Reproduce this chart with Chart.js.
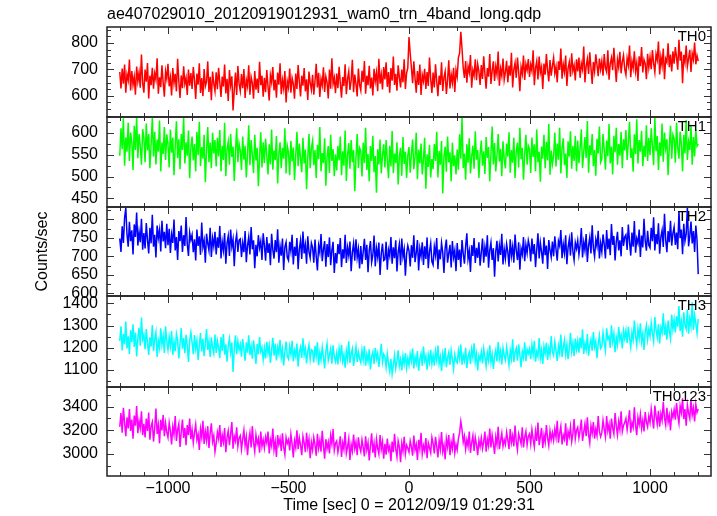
<!DOCTYPE html>
<html>
<head>
<meta charset="utf-8">
<script src="https://cdn.jsdelivr.net/npm/chart.js@4.4.1/dist/chart.umd.min.js"></script>
<style>
  html, body { margin: 0; padding: 0; background: #fff; }
  #wrap { position: relative; width: 717px; height: 516px; overflow: hidden; }
  #wrap canvas { position: absolute; left: 0; }
</style>
</head>
<body>
<div id="wrap"></div>
<script>
const FONT = "'Liberation Sans', Arial, Helvetica, sans-serif";
const fileTitle = "ae407029010_20120919012931_wam0_trn_4band_long.qdp";
const xTitle = "Time [sec] 0 = 2012/09/19 01:29:31";
const yTitle = "Counts/sec";

// light curve bins, 5 s each from -1200 to 1200 s
const tStart = -1200, tStep = 5;
const xRange = [-1253, 1253];
const xLabelTicks = [-1000, -500, 0, 500, 1000];

const bands = ["TH0", "TH1", "TH2", "TH3", "TH0123"];
const yRanges = [[520, 860], [430, 637], [593, 833], [1023, 1433], [2814, 3566]];
const yTickLabels = [
  [600, 700, 800],
  [450, 500, 550, 600],
  [600, 650, 700, 750, 800],
  [1100, 1200, 1300, 1400],
  [3000, 3200, 3400]
];
const yMinor = [25, 25, 25, 50, 100];

// one row = 100 s
const th0 = [
  690, 628, 703, 646, 718, 612, 681, 659, 737, 620, 694, 641, 672, 604, 711, 655, 688, 631, 756, 648,
  612, 699, 653, 724, 590, 676, 640, 706, 627, 685, 661, 742, 608, 670, 633, 715, 650, 597, 692, 664,
  721, 636, 669, 601, 705, 648, 683, 617, 740, 655, 592, 677, 629, 712, 645, 668, 603, 699, 638, 686,
  626, 709, 660, 588, 684, 642, 723, 611, 667, 599, 701, 636, 654, 730, 615, 672, 583, 692, 647, 618,
  689, 625, 706, 651, 596, 673, 635, 718, 609, 664, 581, 697, 640, 674, 545, 622, 688, 603, 713, 646,
  618, 682, 629, 701, 592, 660, 636, 715, 604, 671, 648, 589, 694, 623, 665, 611, 729, 640, 676, 597,
  668, 614, 697, 635, 582, 678, 651, 709, 620, 661, 593, 688, 642, 723, 606, 659, 627, 694, 575, 655,
  631, 703, 612, 667, 645, 589, 684, 626, 716, 652, 598, 676, 638, 705, 617, 662, 584, 692, 649, 623,
  679, 604, 655, 721, 632, 687, 596, 664, 640, 708, 615, 673, 651, 590, 699, 627, 742, 645, 668, 610,
  684, 629, 710, 648, 593, 671, 637, 719, 606, 663, 692, 622, 657, 736, 614, 680, 645, 598, 703, 641,
  620, 695, 652, 731, 608, 676, 640, 713, 628, 669, 601, 702, 655, 688, 617, 740, 646, 681, 624, 709,
  662, 727, 634, 690, 612, 705, 657, 748, 641, 683, 619, 715, 670, 632, 699, 651, 738, 626, 686, 705,
  822, 761, 706, 648, 730, 667, 612, 694, 641, 718, 603, 679, 655, 702, 626, 690, 637, 745, 664, 611,
  688, 632, 719, 654, 599, 676, 641, 727, 618, 670, 692, 607, 659, 734, 628, 681, 649, 706, 615, 697,
  672, 745, 761, 842, 778, 705, 668, 731, 650, 712, 688, 754, 631, 697, 676, 738, 659, 720, 692, 641,
  716, 664, 749, 683, 627, 705, 672, 758, 645, 694, 730, 656, 711, 681, 767, 638, 702, 675, 741, 660,
  689, 732, 651, 714, 676, 763, 632, 700, 725, 668, 745, 690, 617, 709, 683, 752, 660, 720, 697, 739,
  671, 718, 694, 772, 640, 705, 731, 662, 748, 687, 709, 626, 722, 680, 758, 697, 654, 735, 676, 713,
  744, 685, 710, 651, 730, 698, 779, 665, 719, 690, 752, 637, 704, 727, 672, 761, 694, 715, 658, 738,
  692, 745, 668, 722, 700, 786, 651, 712, 739, 683, 764, 706, 645, 728, 693, 757, 718, 674, 741, 700,
  731, 676, 758, 705, 690, 772, 661, 722, 744, 697, 781, 714, 652, 737, 708, 766, 685, 728, 753, 701,
  679, 742, 716, 790, 670, 731, 704, 768, 693, 725, 656, 749, 712, 784, 688, 737, 722, 663, 759, 707,
  746, 701, 773, 722, 689, 758, 736, 805, 681, 747, 714, 779, 663, 740, 727, 798, 708, 756, 692, 768,
  721, 784, 745, 699, 812, 733, 767, 648, 755, 726, 790, 711, 741, 774, 690, 760, 737, 801, 719, 752,
  731
];
const th1 = [
  548, 611, 563, 634, 525, 590, 557, 624, 536, 601, 579, 515, 617, 561, 636, 542, 598, 570, 527, 609,
  589, 533, 622, 560, 598, 519, 574, 636, 546, 603, 528, 585, 557, 629, 512, 578, 552, 614, 538, 597,
  574, 521, 608, 555, 590, 503, 569, 627, 542, 586, 517, 598, 561, 635, 530, 579, 548, 606, 496, 567,
  592, 537, 575, 512, 603, 549, 626, 524, 568, 541, 596, 487, 559, 614, 533, 578, 519, 601, 553, 584,
  523, 589, 546, 607, 512, 571, 538, 624, 501, 563, 580, 527, 598, 545, 569, 490, 556, 611, 533, 576,
  560, 515, 592, 539, 571, 498, 553, 618, 526, 584, 549, 508, 596, 537, 566, 478, 545, 602, 521, 579,
  531, 587, 549, 505, 574, 528, 608, 516, 560, 538, 593, 484, 552, 579, 519, 566, 541, 611, 507, 571,
  556, 503, 582, 535, 567, 492, 548, 603, 524, 576, 541, 510, 589, 530, 562, 471, 543, 598, 519, 565,
  582, 526, 561, 497, 573, 540, 614, 512, 554, 531, 588, 479, 545, 570, 508, 596, 536, 563, 501, 551,
  514, 571, 537, 592, 503, 558, 525, 606, 490, 549, 577, 518, 584, 533, 561, 466, 544, 598, 520, 566,
  559, 500, 578, 531, 612, 515, 552, 489, 570, 536, 594, 510, 547, 463, 563, 528, 585, 507, 549, 574,
  521, 584, 538, 496, 571, 523, 605, 508, 553, 531, 579, 482, 546, 566, 502, 591, 529, 557, 497, 548,
  568, 509, 553, 585, 517, 544, 601, 494, 562, 530, 576, 505, 539, 589, 472, 551, 522, 573, 498, 540,
  517, 575, 536, 603, 498, 559, 527, 582, 461, 546, 569, 511, 592, 533, 556, 489, 578, 524, 549, 505,
  562, 516, 597, 541, 636, 520, 553, 493, 574, 532, 588, 507, 546, 571, 518, 604, 539, 561, 497, 552,
  583, 525, 558, 506, 591, 543, 568, 489, 552, 615, 528, 577, 512, 549, 598, 534, 564, 501, 581, 540,
  519, 576, 546, 602, 509, 561, 532, 589, 497, 558, 578, 521, 612, 540, 566, 493, 551, 596, 527, 571,
  563, 508, 590, 545, 574, 512, 608, 533, 557, 488, 569, 541, 596, 519, 580, 537, 621, 504, 560, 529,
  548, 601, 523, 576, 539, 612, 507, 565, 588, 526, 553, 497, 581, 546, 604, 518, 571, 536, 593, 512,
  583, 531, 566, 609, 520, 557, 591, 543, 628, 509, 572, 549, 598, 524, 561, 502, 587, 553, 615, 533,
  541, 598, 562, 516, 583, 547, 621, 530, 569, 505, 594, 556, 612, 527, 575, 548, 603, 519, 586, 560,
  607, 538, 578, 626, 543, 565, 511, 597, 552, 632, 530, 584, 557, 605, 524, 571, 545, 618, 536, 589,
  549, 611, 571, 526, 636, 558, 593, 515, 579, 547, 622, 534, 601, 565, 586, 503, 569, 617, 541, 596,
  587, 532, 624, 566, 541, 603, 574, 512, 596, 553, 630, 538, 580, 561, 619, 527, 591, 546, 608, 570,
  575
];
const th2 = [
  748, 712, 781, 736, 804, 830, 759, 726, 793, 741, 770, 705, 786, 752, 818, 729, 766, 738, 801, 718,
  763, 721, 790, 744, 708, 777, 735, 812, 726, 758, 697, 783, 749, 771, 713, 796, 740, 766, 722, 788,
  730, 774, 709, 759, 736, 799, 716, 752, 690, 768, 741, 783, 712, 757, 728, 806, 733, 701, 764, 744,
  758, 711, 746, 689, 772, 728, 754, 704, 791, 725, 743, 683, 761, 735, 716, 777, 698, 749, 727, 766,
  705, 751, 723, 782, 694, 740, 716, 763, 680, 735, 755, 701, 772, 726, 746, 673, 738, 759, 712, 744,
  747, 698, 736, 711, 768, 684, 729, 752, 705, 779, 719, 743, 668, 731, 700, 757, 723, 741, 690, 762,
  730, 688, 752, 709, 735, 676, 761, 718, 694, 744, 711, 773, 683, 727, 702, 748, 663, 725, 738, 697,
  689, 739, 714, 758, 678, 726, 701, 749, 665, 720, 743, 693, 767, 708, 731, 680, 754, 712, 696, 736,
  724, 683, 745, 700, 662, 729, 710, 760, 687, 718, 741, 672, 733, 698, 751, 676, 716, 739, 655, 709,
  681, 733, 706, 749, 671, 719, 694, 758, 682, 724, 702, 740, 660, 711, 735, 688, 746, 697, 720, 667,
  728, 679, 712, 747, 690, 731, 657, 716, 741, 684, 703, 756, 673, 722, 698, 737, 650, 708, 734, 689,
  692, 739, 664, 717, 701, 752, 680, 724, 695, 743, 659, 712, 733, 676, 748, 699, 719, 648, 706, 729,
  715, 673, 730, 696, 757, 684, 709, 744, 662, 721, 700, 738, 677, 727, 693, 751, 668, 713, 735, 686,
  677, 726, 703, 749, 665, 718, 692, 736, 711, 655, 722, 745, 683, 708, 731, 670, 741, 697, 716, 660,
  736, 690, 718, 671, 744, 707, 680, 727, 762, 693, 714, 658, 730, 701, 749, 682, 723, 696, 738, 675,
  711, 748, 683, 725, 699, 757, 669, 716, 737, 690, 722, 645, 713, 742, 686, 729, 704, 761, 678, 720,
  694, 733, 712, 672, 746, 701, 726, 683, 759, 715, 690, 738, 664, 721, 705, 752, 687, 731, 709, 743,
  727, 686, 748, 706, 733, 671, 719, 762, 694, 737, 712, 680, 751, 703, 729, 666, 744, 717, 698, 740,
  700, 754, 719, 688, 741, 728, 771, 695, 733, 709, 757, 679, 724, 746, 702, 765, 714, 690, 737, 721,
  743, 705, 731, 776, 697, 738, 716, 760, 685, 729, 751, 708, 784, 722, 699, 745, 727, 769, 694, 735,
  712, 759, 733, 694, 771, 719, 748, 703, 787, 731, 755, 689, 740, 766, 716, 743, 700, 779, 728, 752,
  758, 717, 786, 739, 702, 764, 726, 795, 710, 748, 735, 772, 698, 756, 724, 801, 741, 715, 769, 730,
  723, 777, 741, 805, 716, 760, 733, 789, 707, 752, 770, 725, 815, 744, 711, 768, 738, 796, 729, 762,
  779, 731, 764, 719, 822, 749, 772, 706, 788, 741, 760, 831, 727, 755, 794, 735, 768, 712, 783, 744,
  652
];
const th3 = [
  1230, 1296, 1188, 1262, 1215, 1318, 1197, 1251, 1172, 1279, 1226, 1305, 1203, 1268, 1161, 1244, 1290, 1209, 1336, 1237,
  1258, 1193, 1284, 1221, 1167, 1247, 1205, 1302, 1184, 1239, 1270, 1158, 1232, 1199, 1287, 1214, 1253, 1176, 1296, 1228,
  1190, 1249, 1207, 1275, 1168, 1226, 1184, 1263, 1235, 1152, 1219, 1288, 1196, 1243, 1175, 1258, 1211, 1136, 1232, 1270,
  1224, 1171, 1257, 1196, 1232, 1145, 1210, 1266, 1183, 1240, 1162, 1218, 1284, 1190, 1229, 1158, 1247, 1201, 1174, 1259,
  1176, 1231, 1200, 1153, 1248, 1186, 1262, 1169, 1215, 1137, 1207, 1241, 1180, 1223, 1091, 1194, 1256, 1171, 1228, 1189,
  1215, 1160, 1239, 1193, 1141, 1224, 1178, 1256, 1167, 1206, 1151, 1233, 1189, 1127, 1217, 1170, 1248, 1183, 1201, 1146,
  1198, 1152, 1227, 1175, 1210, 1131, 1189, 1245, 1164, 1219, 1143, 1201, 1172, 1236, 1156, 1194, 1120, 1182, 1228, 1161,
  1149, 1206, 1170, 1231, 1138, 1188, 1162, 1219, 1115, 1180, 1203, 1154, 1242, 1168, 1196, 1129, 1185, 1213, 1147, 1191,
  1187, 1134, 1209, 1162, 1225, 1121, 1178, 1146, 1202, 1157, 1107, 1183, 1218, 1143, 1169, 1196, 1128, 1211, 1160, 1138,
  1176, 1125, 1197, 1154, 1213, 1140, 1168, 1110, 1186, 1149, 1229, 1131, 1172, 1195, 1118, 1163, 1204, 1136, 1181, 1151,
  1132, 1189, 1146, 1208, 1119, 1170, 1138, 1193, 1102, 1160, 1182, 1127, 1199, 1149, 1175, 1113, 1164, 1218, 1135, 1171,
  1158, 1112, 1173, 1129, 1094, 1150, 1081, 1122, 1165, 1106, 1139, 1188, 1117, 1147, 1098, 1163, 1126, 1176, 1110, 1152,
  1121, 1172, 1139, 1196, 1107, 1158, 1130, 1185, 1096, 1149, 1174, 1118, 1205, 1141, 1163, 1101, 1168, 1135, 1191, 1127,
  1166, 1119, 1183, 1144, 1210, 1128, 1159, 1095, 1172, 1137, 1198, 1112, 1154, 1179, 1123, 1188, 1148, 1104, 1169, 1140,
  1132, 1187, 1150, 1214, 1124, 1166, 1141, 1200, 1109, 1161, 1179, 1127, 1193, 1156, 1220, 1136, 1172, 1098, 1164, 1145,
  1181, 1129, 1196, 1158, 1117, 1177, 1143, 1211, 1134, 1170, 1104, 1162, 1189, 1138, 1226, 1151, 1184, 1125, 1199, 1166,
  1144, 1202, 1163, 1121, 1187, 1151, 1238, 1136, 1178, 1198, 1142, 1215, 1167, 1112, 1183, 1156, 1224, 1139, 1192, 1173,
  1195, 1148, 1213, 1169, 1231, 1137, 1182, 1160, 1244, 1153, 1190, 1127, 1206, 1174, 1222, 1145, 1199, 1167, 1252, 1181,
  1165, 1226, 1187, 1140, 1209, 1176, 1259, 1158, 1201, 1235, 1170, 1214, 1148, 1196, 1267, 1183, 1221, 1162, 1241, 1192,
  1231, 1178, 1246, 1197, 1283, 1172, 1220, 1191, 1262, 1164, 1213, 1238, 1186, 1271, 1203, 1229, 1153, 1217, 1255, 1196,
  1205, 1268, 1222, 1187, 1287, 1239, 1251, 1199, 1301, 1228, 1264, 1180, 1246, 1213, 1293, 1235, 1257, 1197, 1276, 1241,
  1278, 1221, 1294, 1245, 1202, 1269, 1236, 1322, 1254, 1212, 1285, 1243, 1310, 1227, 1263, 1190, 1272, 1301, 1238, 1284,
  1251, 1312, 1264, 1229, 1338, 1280, 1247, 1306, 1219, 1291, 1268, 1355, 1257, 1296, 1236, 1322, 1275, 1240, 1349, 1283,
  1327, 1269, 1341, 1295, 1388, 1276, 1318, 1250, 1360, 1302, 1284, 1372, 1263, 1331, 1296, 1405, 1280, 1347, 1309, 1265,
  1330
];
const th0123 = [
  3230, 3345, 3180, 3390, 3265, 3150, 3310, 3215, 3380, 3195, 3290, 3130, 3325, 3240, 3405, 3175, 3280, 3220, 3360, 3160,
  3255, 3140, 3300, 3195, 3350, 3120, 3235, 3270, 3105, 3220, 3385, 3170, 3245, 3090, 3290, 3200, 3330, 3150, 3260, 3185,
  3140, 3265, 3195, 3080, 3230, 3165, 3320, 3110, 3205, 3255, 3060, 3185, 3290, 3135, 3220, 3075, 3245, 3160, 3300, 3125,
  3205, 3095, 3180, 3250, 3120, 3165, 3035, 3210, 3140, 3280, 3085, 3190, 3115, 3235, 3050, 3175, 3260, 3105, 3155, 3020,
  3090, 3185, 3130, 3245, 3060, 3160, 3100, 3220, 3015, 3140, 3195, 3075, 3170, 3270, 3045, 3150, 3110, 3225, 3065, 3135,
  3155, 3040, 3125, 3200, 3070, 3145, 2990, 3110, 3180, 3055, 3235, 3095, 3020, 3160, 3085, 3130, 3010, 3190, 3065, 3120,
  3050, 3145, 3095, 3190, 3005, 3120, 3070, 3215, 3035, 3105, 2975, 3160, 3080, 3130, 3025, 3175, 3060, 2995, 3140, 3090,
  3120, 3030, 3165, 3085, 2970, 3110, 3055, 3200, 3040, 3135, 3075, 2990, 3150, 3095, 3015, 3180, 3060, 3125, 2965, 3100,
  3035, 3140, 3080, 2985, 3170, 3050, 3115, 3020, 3195, 3070, 2960, 3125, 3045, 3100, 3005, 3155, 3085, 3210, 3030, 3090,
  3110, 3015, 3075, 3150, 2975, 3095, 3040, 3185, 3005, 3060, 3130, 2950, 3080, 3025, 3165, 3045, 3100, 2990, 3140, 3060,
  3020, 3120, 3055, 2980, 3150, 3035, 3095, 2945, 3070, 3175, 3010, 3090, 2970, 3125, 3050, 3000, 3160, 3040, 3105, 2960,
  3085, 2995, 3130, 3030, 3065, 2940, 3105, 3015, 3170, 3045, 2975, 3110, 3060, 2930, 3090, 3025, 3145, 3000, 3075, 3050,
  3015, 3110, 3060, 2985, 3155, 3035, 3080, 2950, 3120, 3045, 3180, 3000, 3070, 3025, 3135, 2965, 3095, 3055, 3010, 3140,
  3090, 3005, 3145, 3065, 2970, 3115, 3040, 3185, 3020, 3075, 2955, 3130, 3060, 3160, 2990, 3100, 3045, 3175, 3010, 3080,
  3035, 3130, 3180, 3275, 3205, 3100, 3150, 3040, 3120, 3065, 3190, 3010, 3095, 3155, 3025, 3140, 3080, 2990, 3115, 3060,
  3135, 3045, 3105, 3190, 3020, 3125, 3070, 3215, 3055, 3160, 3090, 3000, 3145, 3080, 3230, 3040, 3110, 3175, 3065, 3120,
  3080, 3185, 3120, 3040, 3210, 3095, 3155, 3065, 3240, 3105, 3035, 3170, 3130, 3085, 3225, 3055, 3140, 3190, 3075, 3150,
  3170, 3085, 3205, 3125, 3060, 3190, 3110, 3265, 3075, 3145, 3220, 3050, 3160, 3100, 3245, 3135, 3070, 3195, 3120, 3180,
  3115, 3210, 3140, 3280, 3095, 3175, 3235, 3080, 3160, 3125, 3260, 3070, 3190, 3145, 3230, 3105, 3170, 3295, 3130, 3200,
  3225, 3135, 3200, 3290, 3110, 3185, 3255, 3150, 3310, 3165, 3095, 3240, 3175, 3270, 3130, 3210, 3155, 3320, 3190, 3145,
  3180, 3285, 3210, 3145, 3320, 3195, 3250, 3130, 3300, 3220, 3170, 3345, 3235, 3160, 3275, 3205, 3360, 3190, 3240, 3265,
  3300, 3205, 3280, 3370, 3180, 3265, 3225, 3395, 3240, 3160, 3310, 3250, 3335, 3215, 3285, 3190, 3355, 3270, 3230, 3320,
  3265, 3380, 3295, 3215, 3410, 3320, 3250, 3365, 3230, 3340, 3285, 3440, 3305, 3245, 3390, 3270, 3325, 3200, 3355, 3310,
  3375, 3290, 3430, 3325, 3260, 3405, 3350, 3470, 3295, 3380, 3240, 3415, 3345, 3300, 3455, 3330, 3390, 3275, 3420, 3350,
  3380
];
const series = [th0, th1, th2, th3, th0123];

// layout
const colors = ["#ff0000", "#00ff00", "#0000ff", "#00ffff", "#ff00ff"];
const panelTop = [27, 117, 207, 296, 387];
const panelBottom = [117, 207, 296, 387, 476];
const margin = 24; // room for tick labels spilling over the panel edges

const fmt = v => (v < 0 ? "\u2212" + Math.abs(v) : String(v));

// qdp style frame with inward ticks and band name
const framePlugin = {
  id: "frame",
  afterDatasetsDraw(chart, args, opts) {
    const { ctx, chartArea: a } = chart;
    const xs = chart.scales.x, ys = chart.scales.y;
    ctx.save();
    ctx.strokeStyle = "#333";
    ctx.lineWidth = 1;
    ctx.beginPath();
    for (let v = -1200; v <= 1200; v += 100) {
      const px = Math.round(xs.getPixelForValue(v)) + 0.5;
      const len = v % 500 === 0 ? 7 : 4;
      ctx.moveTo(px, a.bottom); ctx.lineTo(px, a.bottom - len);
      ctx.moveTo(px, a.top); ctx.lineTo(px, a.top + len);
    }
    for (const t of ys.ticks) {
      const py = Math.round(ys.getPixelForValue(t.value)) + 0.5;
      const len = opts.major.includes(t.value) ? 7 : 4;
      ctx.moveTo(a.left, py); ctx.lineTo(a.left + len, py);
      ctx.moveTo(a.right, py); ctx.lineTo(a.right - len, py);
    }
    ctx.stroke();
    ctx.strokeStyle = "#222";
    ctx.lineWidth = 1.5;
    ctx.strokeRect(a.left, a.top, a.width, a.height);
    ctx.fillStyle = "#000";
    ctx.font = "15px " + FONT;
    ctx.textAlign = "right";
    ctx.textBaseline = "top";
    ctx.fillText(opts.label, a.right - 5, a.top + 2.5);
    ctx.restore();
  }
};

const wrap = document.getElementById("wrap");

series.forEach((vals, i) => {
  const isTop = i === 0, isBottom = i === series.length - 1;
  const cTop = isTop ? 0 : panelTop[i] - margin;
  const cBottom = isBottom ? 516 : panelBottom[i] + margin;
  const canvas = document.createElement("canvas");
  canvas.width = 717;
  canvas.height = cBottom - cTop;
  canvas.style.top = cTop + "px";
  wrap.appendChild(canvas);

  const [yMin, yMax] = yRanges[i];
  const yTickVals = [];
  for (let v = Math.ceil(yMin / yMinor[i]) * yMinor[i]; v < yMax; v += yMinor[i]) {
    if (v > yMin) yTickVals.push(v);
  }
  const xTickVals = [];
  for (let v = -1200; v <= 1200; v += 100) xTickVals.push(v);

  new Chart(canvas, {
    type: "line",
    data: {
      datasets: [{
        data: vals.map((y, k) => ({ x: tStart + k * tStep, y })),
        borderColor: colors[i],
        borderWidth: 1.5,
        pointRadius: 0,
        tension: 0,
        fill: false
      }]
    },
    options: {
      responsive: false,
      animation: false,
      events: [],
      layout: { padding: { left: 0, right: 6, top: isTop ? 0 : margin, bottom: isBottom ? 0 : margin } },
      scales: {
        x: {
          type: "linear",
          min: xRange[0],
          max: xRange[1],
          display: isBottom,
          afterBuildTicks: s => { s.ticks = xTickVals.map(v => ({ value: v })); },
          afterFit: s => { s.height = isBottom ? 40 : 0; },
          grid: { display: false, drawTicks: false },
          border: { display: false },
          ticks: {
            autoSkip: false,
            maxRotation: 0,
            padding: 3,
            color: "#000",
            font: { family: FONT, size: 16 },
            callback: v => (xLabelTicks.includes(v) ? fmt(v) : "")
          },
          title: {
            display: true,
            text: xTitle,
            color: "#000",
            font: { family: FONT, size: 16 },
            padding: { top: 0, bottom: 1 }
          }
        },
        y: {
          type: "linear",
          min: yMin,
          max: yMax,
          afterBuildTicks: s => { s.ticks = yTickVals.map(v => ({ value: v })); },
          afterFit: s => { s.width = 107; },
          grid: { display: false, drawTicks: false },
          border: { display: false },
          ticks: {
            autoSkip: false,
            padding: 9,
            color: "#000",
            font: { family: FONT, size: 16 },
            callback: v => (yTickLabels[i].includes(v) ? String(v) : "")
          },
          title: {
            display: i === 2,
            text: yTitle,
            color: "#000",
            font: { family: FONT, size: 16 },
            padding: { top: 33, bottom: 0 }
          }
        }
      },
      plugins: {
        legend: { display: false },
        tooltip: { enabled: false },
        title: {
          display: isTop,
          text: fileTitle,
          align: "start",
          fullSize: false,
          color: "#000",
          font: { family: FONT, size: 16, weight: "normal" },
          padding: { top: 5, bottom: 2.8 }
        },
        frame: { label: bands[i], major: yTickLabels[i] }
      }
    },
    plugins: [framePlugin]
  });
});
</script>
</body>
</html>
